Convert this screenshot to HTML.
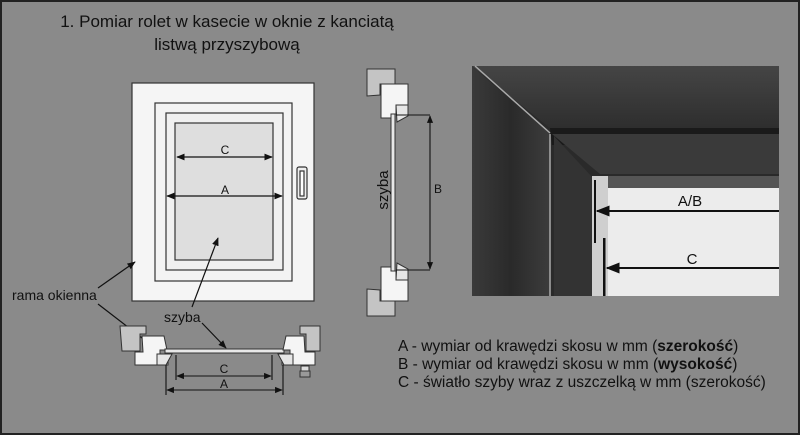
<!DOCTYPE html>
<html><head><meta charset="utf-8"><style>
body{margin:0;width:800px;height:435px;overflow:hidden;background:#8a8a8a}
svg{display:block}
text{font-family:"Liberation Sans",sans-serif;fill:#111}
</style></head><body>
<svg width="800" height="435" viewBox="0 0 800 435" xmlns="http://www.w3.org/2000/svg">
<defs>
<marker id="ar" viewBox="0 0 10 10" refX="9" refY="5" markerWidth="7" markerHeight="7" orient="auto-start-reverse"><path d="M0,1 L10,5 L0,9 Z" fill="#111"/></marker>
<linearGradient id="wood" x1="0" x2="1"><stop offset="0" stop-color="#3a3a3a"/><stop offset=".5" stop-color="#2a2a2a"/><stop offset="1" stop-color="#3c3c3c"/></linearGradient>
<linearGradient id="woodh" x1="0" y1="0" x2="0" y2="1"><stop offset="0" stop-color="#454545"/><stop offset="1" stop-color="#2e2e2e"/></linearGradient>
</defs>
<rect x="1" y="1" width="798" height="433" fill="#8a8a8a" stroke="#222" stroke-width="2"/>
<text x="227" y="27" font-size="17" text-anchor="middle">1. Pomiar rolet w kasecie w oknie z kanciatą</text>
<text x="227" y="50" font-size="17" text-anchor="middle">listwą przyszybową</text>
<g stroke="#333" stroke-width="1.2">
<rect x="132" y="83" width="182" height="218" fill="#f5f5f5"/>
<rect x="155" y="103" width="137" height="178" fill="#f3f3f3"/>
<rect x="166" y="113" width="117" height="157" fill="#f0f0f0"/>
<rect x="175" y="123" width="98" height="137" fill="#dedede"/>
<rect x="297" y="167" width="10" height="32" rx="2" fill="#eee"/>
<rect x="300" y="171" width="4" height="25" fill="#fff"/>
</g>
<g stroke="#111" stroke-width="1.2" fill="none">
<line x1="177" y1="157" x2="272" y2="157" marker-start="url(#ar)" marker-end="url(#ar)"/>
<line x1="167" y1="196" x2="282" y2="196" marker-start="url(#ar)" marker-end="url(#ar)"/>
<line x1="192" y1="307" x2="218" y2="238" marker-end="url(#ar)"/>
<line x1="98" y1="288" x2="135" y2="262" marker-end="url(#ar)"/>
<line x1="98" y1="304" x2="155" y2="348" marker-end="url(#ar)"/>
<line x1="202" y1="323" x2="226" y2="348" marker-end="url(#ar)"/>
</g>
<text x="225" y="154" font-size="12" text-anchor="middle">C</text>
<text x="225" y="194" font-size="12" text-anchor="middle">A</text>
<text x="12" y="300" font-size="14">rama okienna</text>
<text x="164" y="322" font-size="14">szyba</text>
<g stroke="#333" stroke-width="1">
<path d="M120,326 H146 V334 H140 V351 H122 Z" fill="#c4c4c4"/>
<path d="M142,336 H164 L167,350 H160 V355 H168 V365 H135 V352 H143 Z" fill="#f5f5f5"/>
<path d="M157,354 H172 L166,365 H157 Z" fill="#e6e6e6"/>
<rect x="165" y="349" width="119" height="4" fill="#e8e8e8"/>
<path d="M320,326 H300 V334 H306 V351 H320 Z" fill="#c4c4c4"/>
<path d="M304,336 H286 L283,350 H290 V355 H282 V365 H315 V352 H305 Z" fill="#f5f5f5"/>
<path d="M293,354 H278 L284,365 H293 Z" fill="#e6e6e6"/>
<rect x="301" y="366" width="8" height="5" fill="#ddd"/>
<rect x="300" y="371" width="10" height="6" fill="#999"/>
</g>
<g stroke="#111" stroke-width="1.1" fill="none">
<line x1="176" y1="355" x2="176" y2="380"/><line x1="272" y1="355" x2="272" y2="380"/>
<line x1="166" y1="365" x2="166" y2="395"/><line x1="283" y1="365" x2="283" y2="395"/>
<line x1="177" y1="376" x2="271" y2="376" marker-start="url(#ar)" marker-end="url(#ar)"/>
<line x1="167" y1="390" x2="282" y2="390" marker-start="url(#ar)" marker-end="url(#ar)"/>
</g>
<text x="224" y="373" font-size="12" text-anchor="middle">C</text>
<text x="224" y="388" font-size="12" text-anchor="middle">A</text>
<g stroke="#333" stroke-width="1">
<path d="M367,69 H395 V84 H380 V95 L367,96 Z" fill="#c4c4c4"/>
<path d="M381,84 H408 V105 H396 V114 H391 V118 H381 Z" fill="#f5f5f5"/>
<path d="M396,105 H408 V116 L397,122 Z" fill="#e6e6e6"/>
</g>
<g transform="translate(0,385) scale(1,-1)" stroke="#333" stroke-width="1">
<path d="M367,69 H395 V84 H380 V95 L367,96 Z" fill="#c4c4c4"/>
<path d="M381,84 H408 V105 H396 V114 H391 V118 H381 Z" fill="#f5f5f5"/>
<path d="M396,105 H408 V116 L397,122 Z" fill="#e6e6e6"/>
</g>
<rect x="391" y="114" width="4" height="157" fill="#e8e8e8" stroke="#333" stroke-width="1"/>
<g stroke="#111" stroke-width="1.1" fill="none">
<line x1="396" y1="115" x2="430" y2="115"/><line x1="396" y1="270" x2="430" y2="270"/>
<line x1="430" y1="116" x2="430" y2="269" marker-start="url(#ar)" marker-end="url(#ar)"/>
</g>
<text x="434" y="193" font-size="12">B</text>
<text transform="translate(388,190) rotate(-90)" font-size="15" text-anchor="middle">szyba</text>
<rect x="472" y="66" width="307" height="230" fill="#2a2a2a"/>
<path d="M472,66 H779 V128 H550 Z" fill="url(#woodh)"/>
<path d="M550,128 H779 V145 H552 Z" fill="#1a1a1a"/>
<path d="M552,134 H779 V174 H600 Z" fill="#3a3a3a"/>
<path d="M472,66 L550,134 V296 H472 Z" fill="url(#wood)"/>
<line x1="475" y1="66" x2="550" y2="133" stroke="#aaa" stroke-width="1.5"/>
<line x1="550" y1="134" x2="550" y2="296" stroke="#aaa" stroke-width="1.5"/>
<path d="M554,136 L592,177 V296 H554 Z" fill="#333"/>
<rect x="592" y="176" width="16" height="120" fill="#cfcfcf"/>
<rect x="594" y="180" width="2" height="63" fill="#111"/>
<rect x="603" y="238" width="2.5" height="58" fill="#111"/>
<rect x="608" y="186" width="171" height="110" fill="#ececec"/>
<rect x="608" y="176" width="171" height="10" fill="#555"/>
<line x1="608" y1="187" x2="779" y2="187" stroke="#222" stroke-width="1.5"/>
<g stroke="#111" stroke-width="2" fill="none">
<line x1="779" y1="211" x2="597" y2="211" marker-end="url(#ar)"/>
<line x1="779" y1="268" x2="607" y2="268" marker-end="url(#ar)"/>
</g>
<text x="690" y="206" font-size="15" text-anchor="middle">A/B</text>
<text x="692" y="264" font-size="15" text-anchor="middle">C</text>
<text x="398" y="351" font-size="15.5">A - wymiar od krawędzi skosu w mm (<tspan font-weight="bold">szerokość</tspan>)</text>
<text x="398" y="369" font-size="15.5">B - wymiar od krawędzi skosu w mm (<tspan font-weight="bold">wysokość</tspan>)</text>
<text x="398" y="387" font-size="15.5">C - światło szyby wraz z uszczelką w mm (szerokość)</text>
</svg>
</body></html>
